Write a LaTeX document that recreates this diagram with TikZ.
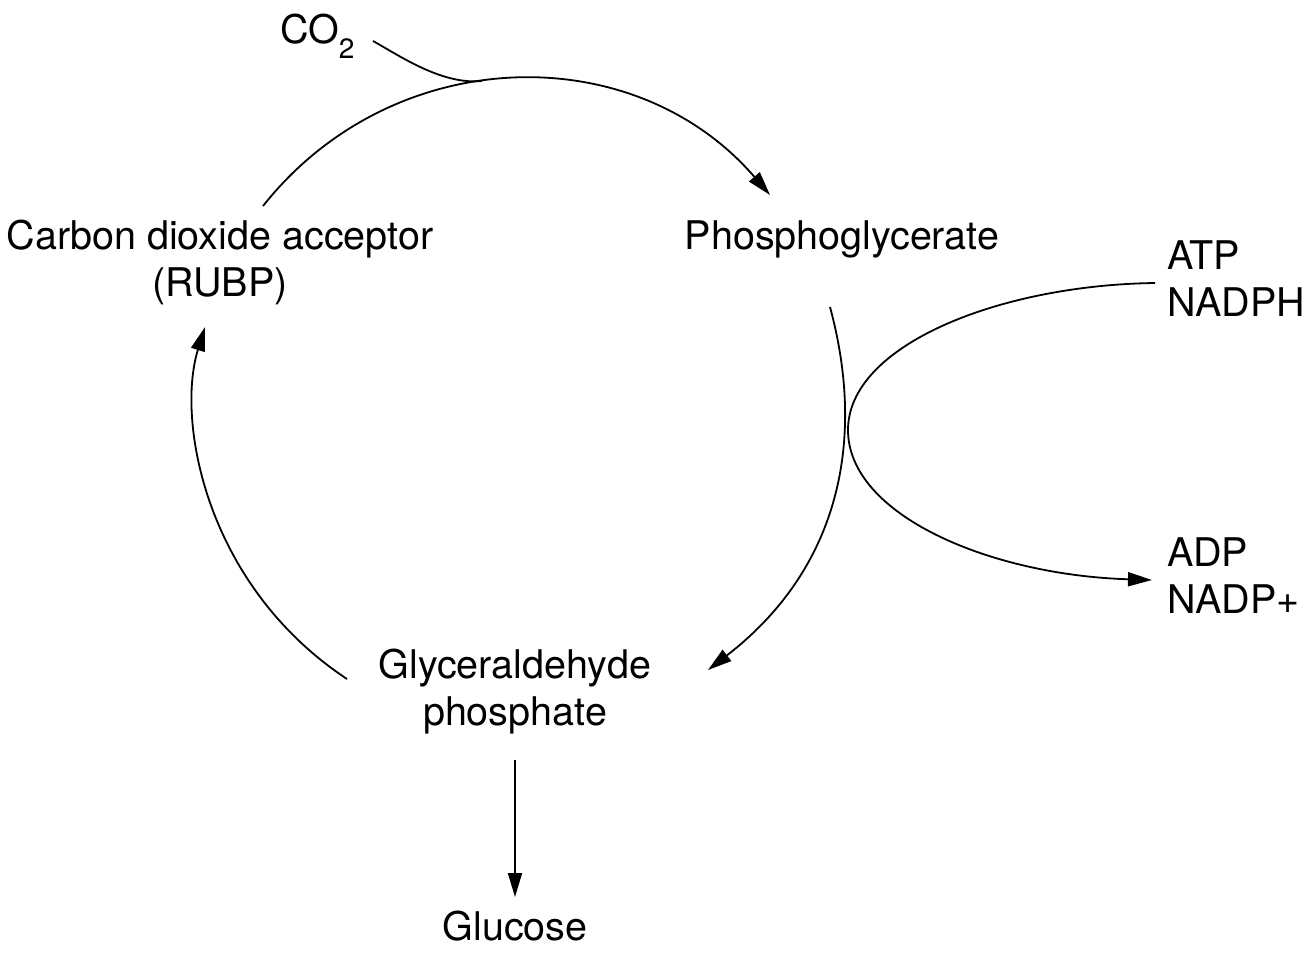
\documentclass[tikz,border=0pt]{standalone}
\usepackage{fontspec}
\setmainfont{TeX Gyre Heros}
\usetikzlibrary{arrows.meta}
\begin{document}
\begin{tikzpicture}[x=1pt,y=-1pt,
  lbl/.style={font=\fontsize{39.5}{47}\selectfont, inner sep=0pt, outer sep=0pt},
  conn/.style={line width=1.8pt},
  arr/.style={conn,-{Triangle[length=24pt,width=14pt]}}]
\useasboundingbox (0,0) rectangle (1314,962);
% labels (multi-line nodes are placed by the baseline of their last line)
\node[lbl,anchor=base west] (co2) at (280,43) {CO\raisebox{-15pt}{\fontsize{28}{28}\selectfont 2}};
\node[lbl,anchor=base,align=center] (rubp) at (220,296) {Carbon dioxide acceptor\\(RUBP)};
\node[lbl,anchor=base] (pga) at (842,249) {Phosphoglycerate};
\node[lbl,anchor=base west,align=left] (atp) at (1167,316) {ATP\\NADPH};
\node[lbl,anchor=base west,align=left] (adp) at (1167,613) {ADP\\NADP+};
\node[lbl,anchor=base,align=center] (gap) at (515,725) {Glyceraldehyde\\phosphate};
\node[lbl,anchor=base] (glu) at (515,940) {Glucose};
% connector end points
\coordinate (co2E) at (373,41);
\coordinate (merge) at (482,81);
\coordinate (rubpT) at (263,206);
\coordinate (pgaL) at (770,195);
\coordinate (pgaB) at (830,307);
\coordinate (gapR) at (708,670);
\coordinate (atpL) at (1155,283);
\coordinate (turn) at (848,430);
\coordinate (adpL) at (1152,580);
\coordinate (gapL) at (347,679);
\coordinate (rubpB) at (205,327);
\coordinate (gapB) at (515,760);
\coordinate (gluT) at (515,897);
% connectors
\draw[conn] (co2E) .. controls (400,56) and (442,85) .. (merge);
\draw[arr] (rubpT) .. controls (393,42) and (634,37) .. (pgaL);
\draw[arr] (pgaB) .. controls (866,440) and (840,568) .. (gapR);
\draw[arr] (atpL) .. controls (1000,285) and (848,345) .. (turn) .. controls (848,515) and (990,575) .. (adpL);
\draw[arr] (gapL) .. controls (205,585) and (176,420) .. (rubpB);
\draw[arr] (gapB) -- (gluT);
\end{tikzpicture}
\end{document}
